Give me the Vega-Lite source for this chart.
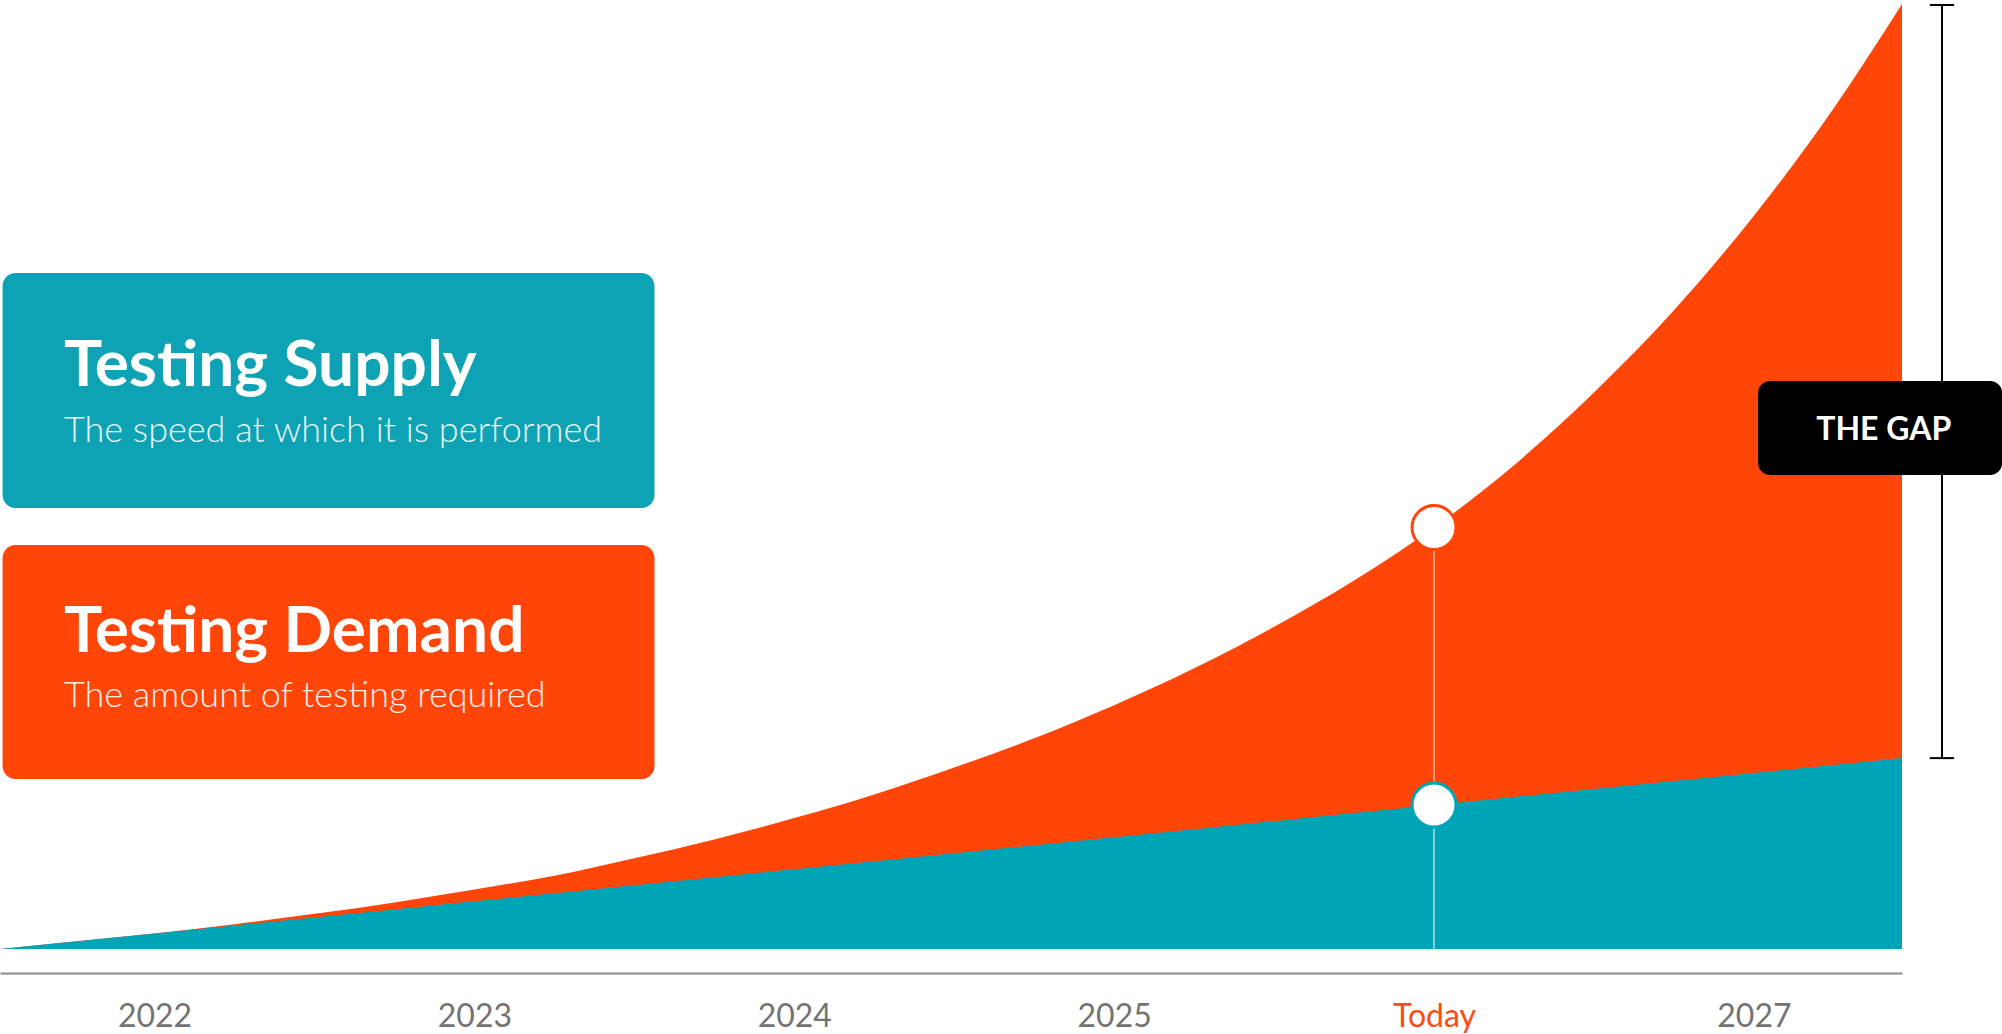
{
  "$schema": "https://vega.github.io/schema/vega-lite/v6.json",
  "width": 1902,
  "height": 945,
  "autosize": {"type": "none"},
  "padding": {"left": 0, "right": 100, "top": 4, "bottom": 85},
  "background": "white",
  "config": {"view": {"stroke": null}, "font": "Lato"},
  "data": {
    "values": [
      {"year": 2021.517, "demand": 0, "supply": 0},
      {"year": 2021.75, "demand": 0.8, "supply": 0.79},
      {"year": 2022, "demand": 1.65, "supply": 1.64},
      {"year": 2022.25, "demand": 2.62, "supply": 2.49},
      {"year": 2022.5, "demand": 3.72, "supply": 3.34},
      {"year": 2022.75, "demand": 4.93, "supply": 4.19},
      {"year": 2023, "demand": 6.3, "supply": 5.04},
      {"year": 2023.25, "demand": 7.75, "supply": 5.89},
      {"year": 2023.5, "demand": 9.6, "supply": 6.74},
      {"year": 2023.75, "demand": 11.6, "supply": 7.59},
      {"year": 2024, "demand": 13.85, "supply": 8.44},
      {"year": 2024.25, "demand": 16.35, "supply": 9.28},
      {"year": 2024.5, "demand": 19.2, "supply": 10.13},
      {"year": 2024.75, "demand": 22.3, "supply": 10.98},
      {"year": 2025, "demand": 25.8, "supply": 11.83},
      {"year": 2025.25, "demand": 29.7, "supply": 12.68},
      {"year": 2025.5, "demand": 34.1, "supply": 13.53},
      {"year": 2025.75, "demand": 39.0, "supply": 14.38},
      {"year": 2026, "demand": 44.6, "supply": 15.23},
      {"year": 2026.25, "demand": 51.2, "supply": 16.08},
      {"year": 2026.5, "demand": 58.9, "supply": 16.93},
      {"year": 2026.75, "demand": 67.6, "supply": 17.78},
      {"year": 2027, "demand": 77.6, "supply": 18.63},
      {"year": 2027.25, "demand": 89.0, "supply": 19.48},
      {"year": 2027.463, "demand": 100, "supply": 20.2}
    ]
  },
  "layer": [
    {
      "mark": {"type": "area", "color": "#FF4507", "interpolate": "monotone"},
      "encoding": {
        "x": {
          "field": "year", "type": "quantitative",
          "scale": {"domain": [2021.517, 2027.463], "nice": false, "zero": false},
          "axis": {
            "values": [2022, 2023, 2024, 2025, 2026, 2027],
            "format": "d",
            "labelExpr": "datum.value == 2026 ? 'Today' : datum.label",
            "title": null, "grid": false, "ticks": false, "tickSize": 0,
            "offset": 24, "domainColor": "#8a8a8a", "domainWidth": 2,
            "labelFont": "Lato", "labelFontSize": 32,
            "labelColor": {"condition": {"test": "datum.value == 2026", "value": "#FF4A12"}, "value": "#737373"},
            "labelPadding": 53, "labelBaseline": "alphabetic"
          }
        },
        "y": {
          "field": "demand", "type": "quantitative",
          "scale": {"domain": [0, 100], "nice": false, "zero": true},
          "axis": null
        }
      }
    },
    {
      "mark": {"type": "area", "color": "#00A4B7", "interpolate": "monotone"},
      "encoding": {
        "x": {"field": "year", "type": "quantitative"},
        "y": {"field": "supply", "type": "quantitative"}
      }
    },
    {
      "transform": [{"filter": "datum.year == 2026"}],
      "mark": {"type": "rule", "color": "white", "opacity": 0.65, "strokeWidth": 1.5},
      "encoding": {
        "x": {"field": "year", "type": "quantitative"},
        "y": {"field": "demand", "type": "quantitative"},
        "y2": {"datum": 0}
      }
    },
    {
      "transform": [{"filter": "datum.year == 2026"}],
      "mark": {"type": "point", "shape": "circle", "filled": true, "fill": "white", "stroke": "#FF4507", "strokeWidth": 3, "size": 1936, "opacity": 1},
      "encoding": {
        "x": {"field": "year", "type": "quantitative"},
        "y": {"field": "demand", "type": "quantitative"}
      }
    },
    {
      "transform": [{"filter": "datum.year == 2026"}],
      "mark": {"type": "point", "shape": "circle", "filled": true, "fill": "white", "stroke": "#00A4B7", "strokeWidth": 3, "size": 1936, "opacity": 1},
      "encoding": {
        "x": {"field": "year", "type": "quantitative"},
        "y": {"field": "supply", "type": "quantitative"}
      }
    },
    {
      "transform": [{"filter": "datum.year > 2027.4"}],
      "mark": {"type": "rule", "color": "black", "strokeWidth": 2},
      "encoding": {
        "x": {"datum": 2027.588, "type": "quantitative"},
        "y": {"field": "demand", "type": "quantitative"},
        "y2": {"field": "supply"}
      }
    },
    {
      "transform": [{"filter": "datum.year > 2027.4"}],
      "mark": {"type": "rule", "color": "black", "strokeWidth": 2, "yOffset": 1},
      "encoding": {
        "x": {"datum": 2027.55, "type": "quantitative"},
        "x2": {"datum": 2027.626},
        "y": {"field": "demand", "type": "quantitative"}
      }
    },
    {
      "transform": [{"filter": "datum.year > 2027.4"}],
      "mark": {"type": "rule", "color": "black", "strokeWidth": 2},
      "encoding": {
        "x": {"datum": 2027.55, "type": "quantitative"},
        "x2": {"datum": 2027.626},
        "y": {"field": "supply", "type": "quantitative"}
      }
    },
    {
      "data": {"values": [{}]},
      "mark": {"type": "rect", "color": "black", "cornerRadius": 12},
      "encoding": {
        "x": {"datum": 2027.013, "type": "quantitative"}, "x2": {"datum": 2027.776},
        "y": {"datum": 60.1, "type": "quantitative"}, "y2": {"datum": 50.16}
      }
    },
    {
      "data": {"values": [{}]},
      "mark": {"type": "text", "text": "THE GAP", "color": "white", "font": "Lato", "fontWeight": "bold", "fontSize": 32, "align": "center", "baseline": "middle", "letterSpacing": 1},
      "encoding": {"x": {"datum": 2027.406, "type": "quantitative"}, "y": {"datum": 54.92, "type": "quantitative"}}
    },
    {
      "data": {"values": [{}]},
      "mark": {"type": "rect", "color": "#9a9a9a", "opacity": 0.18, "cornerRadius": 13, "yOffset": 3, "xOffset": 1},
      "encoding": {
        "x": {"datum": 2021.525, "type": "quantitative"}, "x2": {"datum": 2023.563},
        "y": {"datum": 71.53, "type": "quantitative"}, "y2": {"datum": 46.67}
      }
    },
    {
      "data": {"values": [{}]},
      "mark": {"type": "rect", "color": "#0DA3B4", "cornerRadius": 13},
      "encoding": {
        "x": {"datum": 2021.525, "type": "quantitative"}, "x2": {"datum": 2023.563},
        "y": {"datum": 71.53, "type": "quantitative"}, "y2": {"datum": 46.67}
      }
    },
    {
      "data": {"values": [{}]},
      "mark": {"type": "rect", "color": "#9a9a9a", "opacity": 0.18, "cornerRadius": 13, "yOffset": 3, "xOffset": 1},
      "encoding": {
        "x": {"datum": 2021.525, "type": "quantitative"}, "x2": {"datum": 2023.563},
        "y": {"datum": 42.75, "type": "quantitative"}, "y2": {"datum": 17.99}
      }
    },
    {
      "data": {"values": [{}]},
      "mark": {"type": "rect", "color": "#FF4507", "cornerRadius": 13},
      "encoding": {
        "x": {"datum": 2021.525, "type": "quantitative"}, "x2": {"datum": 2023.563},
        "y": {"datum": 42.75, "type": "quantitative"}, "y2": {"datum": 17.99}
      }
    },
    {
      "data": {"values": [{}]},
      "mark": {"type": "text", "text": "Testing Supply", "color": "white", "font": "Lato", "fontWeight": "bold", "fontSize": 64, "align": "left", "baseline": "alphabetic"},
      "encoding": {"x": {"datum": 2021.717, "type": "quantitative"}, "y": {"datum": 59.58, "type": "quantitative"}}
    },
    {
      "data": {"values": [{}]},
      "mark": {"type": "text", "text": "The speed at which it is performed", "color": "white", "opacity": 0.92, "font": "Lato", "fontWeight": 300, "fontSize": 36, "align": "left", "baseline": "alphabetic"},
      "encoding": {"x": {"datum": 2021.717, "type": "quantitative"}, "y": {"datum": 53.65, "type": "quantitative"}}
    },
    {
      "data": {"values": [{}]},
      "mark": {"type": "text", "text": "Testing Demand", "color": "white", "font": "Lato", "fontWeight": "bold", "fontSize": 64, "align": "left", "baseline": "alphabetic"},
      "encoding": {"x": {"datum": 2021.717, "type": "quantitative"}, "y": {"datum": 31.43, "type": "quantitative"}}
    },
    {
      "data": {"values": [{}]},
      "mark": {"type": "text", "text": "The amount of testing required", "color": "white", "opacity": 0.92, "font": "Lato", "fontWeight": 300, "fontSize": 36, "align": "left", "baseline": "alphabetic"},
      "encoding": {"x": {"datum": 2021.717, "type": "quantitative"}, "y": {"datum": 25.61, "type": "quantitative"}}
    }
  ]
}
